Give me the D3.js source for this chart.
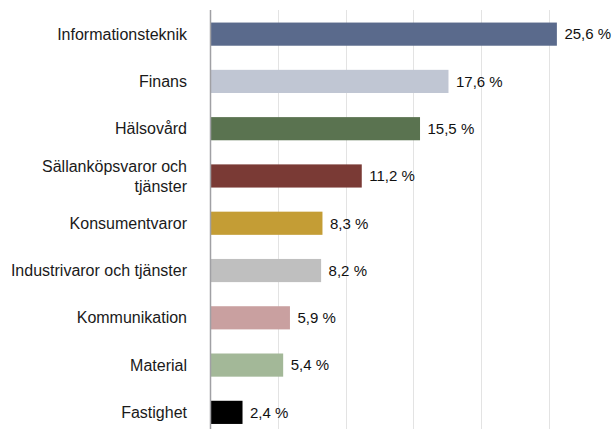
<!doctype html>
<html>
<head>
<meta charset="utf-8">
<script src="https://d3js.org/d3.v7.min.js"></script>
<style>
  body { margin: 0; background: #fff; }
  text { font-family: "Liberation Sans", Arial, sans-serif; }
</style>
</head>
<body>
<svg id="chart" width="613" height="429"></svg>
<script>
// data
var categories = ["Informationsteknik", "Finans", "Hälsovård", "Sällanköpsvaror och tjänster",
  "Konsumentvaror", "Industrivaror och tjänster", "Kommunikation", "Material", "Fastighet"];
var values = [25.6, 17.6, 15.5, 11.2, 8.3, 8.2, 5.9, 5.4, 2.4];
var colors = ["#5a6a8c", "#c0c6d3", "#5a7350", "#7a3a35", "#c49d35", "#bfbfbf", "#c9a0a0", "#a3b898", "#000000"];
// wrapped label lines
var labelLines = [["Informationsteknik"], ["Finans"], ["Hälsovård"], ["Sällanköpsvaror och", "tjänster"],
  ["Konsumentvaror"], ["Industrivaror och tjänster"], ["Kommunikation"], ["Material"], ["Fastighet"]];
var gridTicks = [5, 10, 15, 20, 25];

var svg = d3.select("#chart");

var x = d3.scaleLinear().domain([0, 30]).range([210, 616.5]);
var y = d3.scaleBand().domain(categories).range([10.5, 436]).paddingInner(0.51).paddingOuter(0.255);

// gridlines
svg.append("g").selectAll("line")
  .data(gridTicks).enter().append("line")
  .attr("x1", function(d) { return Math.round(x(d)) + 0.5; })
  .attr("x2", function(d) { return Math.round(x(d)) + 0.5; })
  .attr("y1", 10).attr("y2", 429)
  .attr("stroke", "#e3e3e3").attr("stroke-width", 1);

// bars
svg.append("g").selectAll("rect")
  .data(values).enter().append("rect")
  .attr("x", x(0))
  .attr("y", function(d, i) { return y(categories[i]); })
  .attr("width", function(d) { return x(d) - x(0); })
  .attr("height", y.bandwidth())
  .attr("fill", function(d, i) { return colors[i]; });

// axis line
svg.append("line")
  .attr("x1", 210.5).attr("x2", 210.5)
  .attr("y1", 10).attr("y2", 429)
  .attr("stroke", "#a0a0a4").attr("stroke-width", 1.5);

// value labels
svg.append("g").selectAll("text")
  .data(values).enter().append("text")
  .attr("x", function(d) { return x(d) + 7.5; })
  .attr("y", function(d, i) { return y(categories[i]) + y.bandwidth() / 2; })
  .attr("dy", "0.35em")
  .attr("font-size", "15px")
  .attr("fill", "#111")
  .text(function(d) { return d.toFixed(1).replace(".", ",") + " %"; });

// category labels
var lbl = svg.append("g").selectAll("text")
  .data(labelLines).enter().append("text")
  .attr("text-anchor", "end")
  .attr("font-size", "16px")
  .attr("fill", "#1a1a1a")
  .attr("y", function(d, i) { return y(categories[i]) + y.bandwidth() / 2; });

lbl.each(function(lines) {
  var t = d3.select(this);
  var lh = 20;
  var off = -(lines.length - 1) * lh / 2;
  lines.forEach(function(s, j) {
    t.append("tspan")
      .attr("x", 187)
      .attr("dy", j === 0 ? (off / 16 + 0.35) + "em" : lh + "px")
      .text(s);
  });
});
</script>
</body>
</html>
